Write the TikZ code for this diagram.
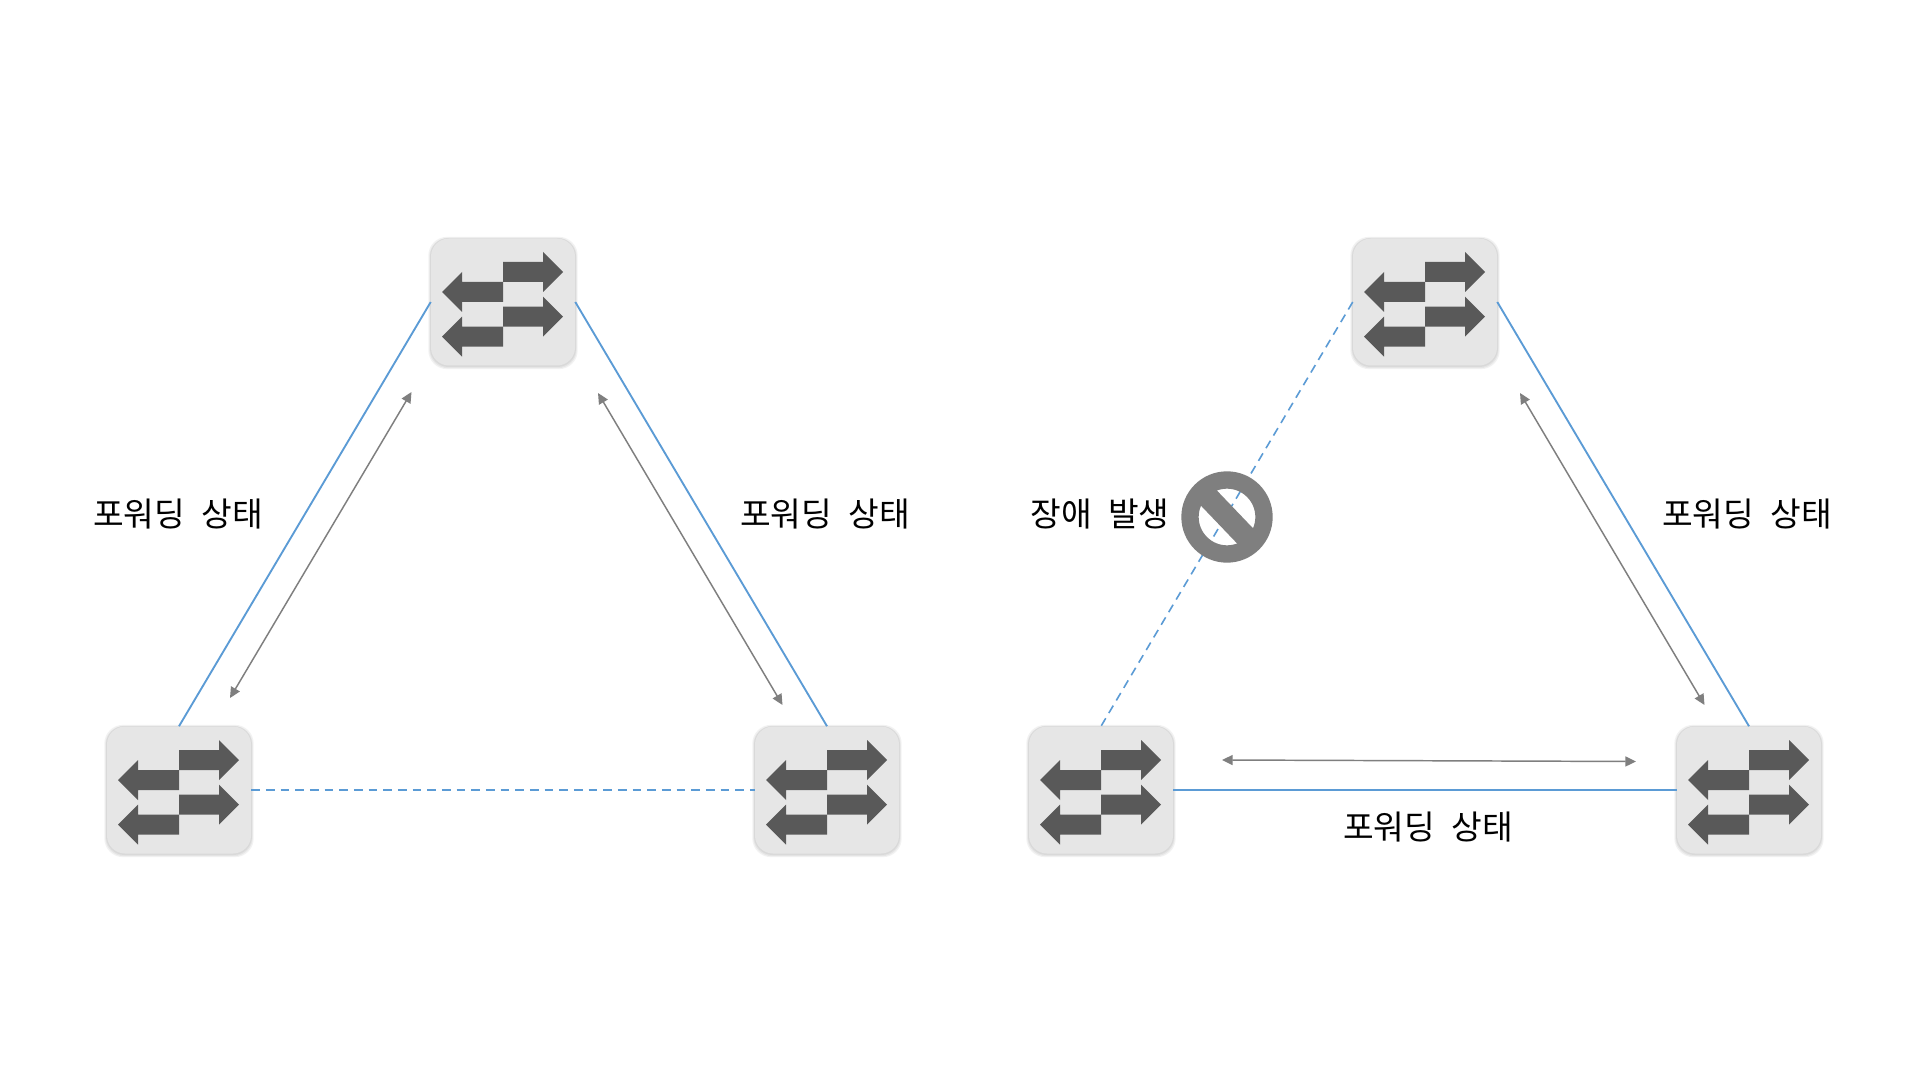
\documentclass[tikz,border=0pt]{standalone}
\usepackage{fontspec}
\newfontfamily\krfont[WordSpace=2.2]{Noto Sans CJK KR}
\usetikzlibrary{arrows.meta}
\definecolor{linkblue}{HTML}{5B9BD5}
\definecolor{boxfill}{HTML}{E6E6E6}
\definecolor{arrowdark}{HTML}{595959}
\definecolor{flowgray}{HTML}{7F7F7F}
\tikzset{
  x=0.75pt,y=-0.75pt,
  swbox/.style={minimum width=108pt,minimum height=95.25pt,inner sep=0pt,rounded corners=13.5pt,fill=boxfill,draw=none},
  softedge/.style={minimum width=#1,minimum height=95.25pt+(#1-108pt),inner sep=0pt,rounded corners=14pt,fill=black,fill opacity=0.05,draw=none},
  link/.style={draw=linkblue,line width=1.4pt},
  downlink/.style={link,line width=1.2pt,dash pattern=on 6.5pt off 4.5pt},
  flow/.style={draw=flowgray,line width=1.1pt,{Triangle[length=8pt,width=7.5pt]}-{Triangle[length=8pt,width=7.5pt]}},
  label/.style={font=\krfont\fontsize{25pt}{28pt}\selectfont,text=black,inner sep=0pt}
}
\newcommand{\swnode}[3]{%
  \node[softedge=112pt] at (#2,#3+1) {};
  \node[softedge=110.5pt] at (#2,#3+1) {};
  \node[softedge=109.5pt] at (#2,#3+0.5) {};
  \node[swbox] (#1) at (#2,#3) {};
  \begin{scope}[shift={(#1.center)}]
    \fill[arrowdark] (0,-40)--(40,-40)--(40,-50)--(60,-30)--(40,-10)--(40,-20)--(0,-20)--cycle;
    \fill[arrowdark] (0,-20)--(-41,-20)--(-41,-30)--(-61,-10)--(-41,10)--(-41,0)--(0,0)--cycle;
    \fill[arrowdark] (0,4.7)--(40,4.7)--(40,-5.3)--(60,14.7)--(40,34.7)--(40,24.7)--(0,24.7)--cycle;
    \fill[arrowdark] (0,24.7)--(-41,24.7)--(-41,14.7)--(-61,34.7)--(-41,54.7)--(-41,44.7)--(0,44.7)--cycle;
  \end{scope}}
\begin{document}
\begin{tikzpicture}
\useasboundingbox (0,0) rectangle (1920,1080);
\fill[white] (0,0) rectangle (1920,1080);
% left triangle
\swnode{ltop}{503}{302}
\swnode{lleft}{179}{790}
\swnode{lright}{827}{790}
\draw[link] (ltop.west) -- (lleft.north);
\draw[link] (ltop.east) -- (lright.north);
\draw[downlink] (lleft.east) -- (lright.west);
\coordinate (fa1) at (411.5,392);
\coordinate (fa2) at (230,698);
\coordinate (fb1) at (598,393);
\coordinate (fb2) at (782.5,705);
\draw[flow] (fa1) -- (fa2);
\draw[flow] (fb1) -- (fb2);
\node[label] (t1) at (178,514) {포워딩 상태};
\node[label] (t2) at (825,514) {포워딩 상태};
% right triangle
\swnode{rtop}{1425}{302}
\swnode{rleft}{1101}{790}
\swnode{rright}{1749}{790}
\draw[downlink] (rtop.west) -- (rleft.north);
\draw[link] (rtop.east) -- (rright.north);
\draw[link] (rleft.east) -- (rright.west);
\coordinate (fc1) at (1520,393);
\coordinate (fc2) at (1704.5,705);
\coordinate (fd1) at (1222,760);
\coordinate (fd2) at (1636,761.5);
\draw[flow] (fc1) -- (fc2);
\draw[flow] (fd1) -- (fd2);
\node[label] (t3) at (1747,514) {포워딩 상태};
\node[label] (t4) at (1428,827) {포워딩 상태};
\node[label] (t5) at (1100,514) {장애 발생};
% prohibition sign
\coordinate (ban) at (1227,517);
\draw[flowgray,line width=13pt] (ban) circle (37);
\draw[flowgray,line width=16.5pt] ([shift={(-22,-23)}]ban) -- ([shift={(22,23)}]ban);
\end{tikzpicture}
\end{document}
